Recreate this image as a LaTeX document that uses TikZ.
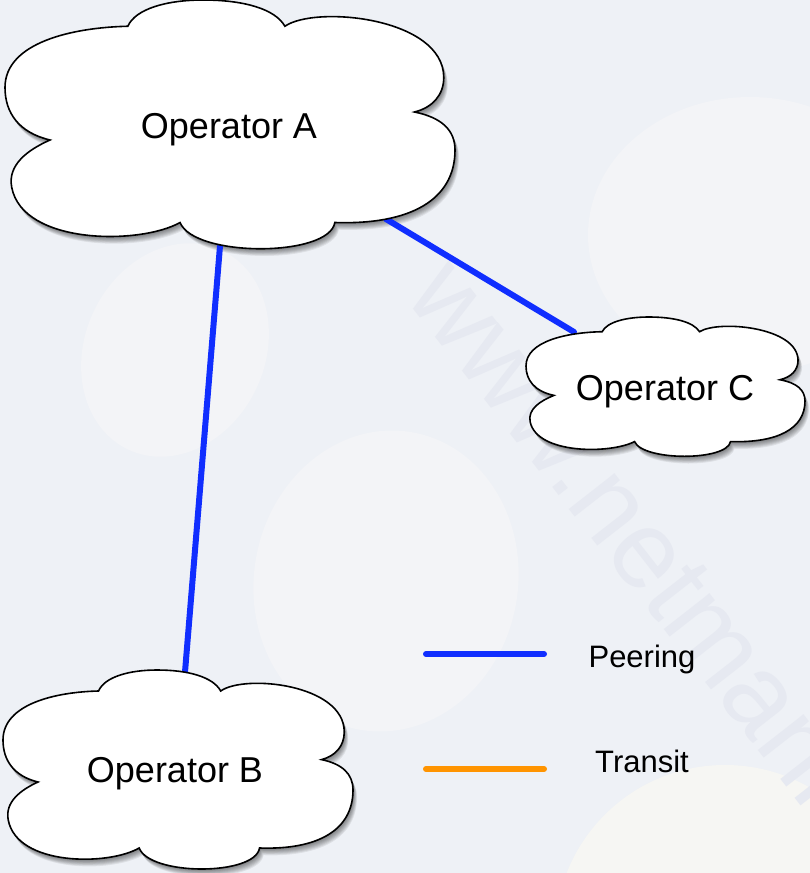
\documentclass[tikz,border=0pt]{standalone}
\usepackage{fontspec}
\setmainfont{Liberation Sans}
\definecolor{bgcol}{RGB}{238,241,246}
\definecolor{blobcol}{RGB}{243,244,247}
\definecolor{blobwarm}{RGB}{246,246,243}
\definecolor{wmcol}{RGB}{230,233,241}
\definecolor{peercol}{RGB}{16,46,255}
\definecolor{transitcol}{RGB}{255,148,0}
\newcommand\cloudoutline{(0.273,0.105) .. controls (0.29,0.035) and (0.36,0.0) .. (0.44,0.0)
 .. controls (0.53,0.0) and (0.60,0.035) .. (0.622,0.105)
 .. controls (0.69,0.02) and (0.975,0.07) .. (0.975,0.31)
 .. controls (0.975,0.38) and (0.95,0.43) .. (0.91,0.448)
 .. controls (0.97,0.47) and (1.0,0.52) .. (1.0,0.6)
 .. controls (1.0,0.8) and (0.9,0.9) .. (0.733,0.89)
 .. controls (0.72,1.03) and (0.42,1.03) .. (0.389,0.89)
 .. controls (0.3,0.98) and (0.04,0.98) .. (0.015,0.75)
 .. controls (0.005,0.66) and (0.05,0.6) .. (0.1,0.56)
 .. controls (0.03,0.53) and (0.0,0.45) .. (0.0,0.35)
 .. controls (0.0,0.17) and (0.15,0.11) .. (0.273,0.105) -- cycle}
\newcommand\cloudshadow[4]{%
 \foreach \i in {1,...,8}{%
  \begin{scope}[shift={({#1+0.5*\i},{#2+0.9*\i})},xscale=#3,yscale=#4]
   \fill[black,fill opacity=0.07] \cloudoutline;
  \end{scope}}}
\newcommand\cloudbody[4]{%
 \begin{scope}[shift={(#1,#2)},xscale=#3,yscale=#4]
  \filldraw[cloudfill] \cloudoutline;
 \end{scope}}
\begin{document}
\begin{tikzpicture}[x=1pt,y=-1pt,
  cloudfill/.style={fill=white,draw=black,line width=1.6pt},
  peerline/.style={draw=peercol,line width=6pt,line cap=round},
  transitline/.style={draw=transitcol,line width=6pt,line cap=round},
  oplabel/.style={inner sep=0pt,font=\fontsize{36}{40}\selectfont},
  leglabel/.style={inner sep=0pt,font=\fontsize{31}{36}\selectfont},
  wmark/.style={inner sep=0pt,text=wmcol,font=\fontsize{110}{120}\selectfont}]
\useasboundingbox (0,0) rectangle (810,873);
\fill[bgcol] (0,0) rectangle (810,873);
\begin{scope}
 \clip (0,0) rectangle (810,873);
 \fill[blobcol, rotate around={-25:(175,350)}] (175,350) ellipse [x radius=90, y radius=110];
 \fill[blobcol, rotate around={-10:(386,581)}] (386,581) ellipse [x radius=132, y radius=151];
 \fill[blobcol] (750,235) ellipse [x radius=162, y radius=138];
 \fill[blobwarm] (725,935) circle [radius=170];
 \node[wmark, anchor=base west, rotate=-52] (wm) at (403,296) {www.netmanias};
\end{scope}
% shadows
\cloudshadow{5}{0}{450}{250}
\cloudshadow{3}{670}{350}{200}
\cloudshadow{526}{317}{279}{140}
% connection points
\coordinate (A-s) at (220,246);
\coordinate (A-se) at (386,219);
\coordinate (B-n) at (185,672);
\coordinate (C-nw) at (574,332);
\draw[peerline] (A-s) -- (B-n);
\draw[peerline] (A-se) -- (C-nw);
% clouds
\cloudbody{5}{0}{450}{250}
\cloudbody{3}{670}{350}{200}
\cloudbody{526}{317}{279}{140}
\node[oplabel, anchor=base] (A) at (229,138) {Operator A};
\node[oplabel, anchor=base] (B) at (175,782) {Operator B};
\node[oplabel, anchor=base] (C) at (665,400) {Operator C};
% legend
\coordinate (P1) at (426,654);
\coordinate (P2) at (544,654);
\coordinate (T1) at (426,769);
\coordinate (T2) at (544,769);
\draw[peerline] (P1) -- (P2);
\draw[transitline] (T1) -- (T2);
\node[leglabel, anchor=base] (Pl) at (642,667) {Peering};
\node[leglabel, anchor=base] (Tl) at (642,772) {Transit};
\end{tikzpicture}
\end{document}
